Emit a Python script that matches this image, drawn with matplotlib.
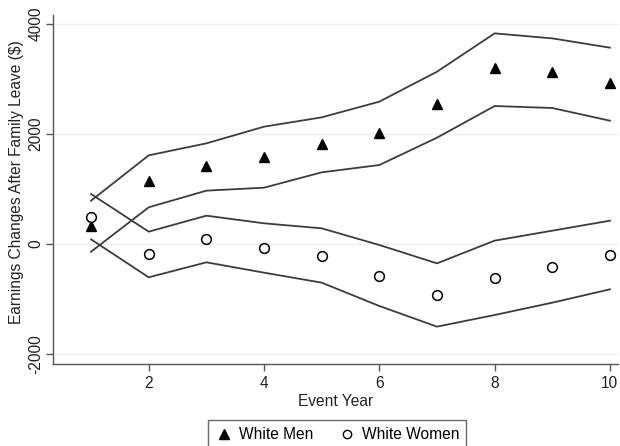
import matplotlib
matplotlib.use("Agg")
import matplotlib.pyplot as plt
from matplotlib.lines import Line2D

plt.rcParams['font.family'] = ['Liberation Sans', 'DejaVu Sans']

years = [1, 2, 3, 4, 5, 6, 7, 8, 9, 10]
men_est = [330, 1145, 1424, 1588, 1818, 2024, 2540, 3194, 3127, 2933]
men_hi = [788, 1612, 1830, 2133, 2303, 2588, 3133, 3830, 3739, 3570]
men_lo = [-140, 667, 970, 1024, 1303, 1436, 1933, 2509, 2473, 2242]
women_est = [485, -182, 85, -79, -218, -576, -927, -618, -424, -200]
women_hi = [909, 224, 515, 376, 285, -18, -352, 61, 242, 424]
women_lo = [85, -606, -333, -521, -703, -1127, -1503, -1291, -1067, -824]

xticks = [2, 4, 6, 8, 10]
yticks = [-2000, 0, 2000, 4000]

fs = 11.2
fig = plt.figure(figsize=(6.2, 4.46), dpi=100)
ax = fig.add_axes([53/620, 1-364/446, (618-53)/620, (364-15)/446])

lc = '#3c3c3c'
for s in (men_hi, men_lo, women_hi, women_lo):
    ax.plot(years, s, color=lc, lw=1.3, zorder=2)

ax.plot(years, men_est, linestyle='none', marker='^', color='black', markersize=7.5, zorder=3)
ax.plot(years, women_est, linestyle='none', marker='o', markerfacecolor='white',
        markeredgecolor='black', markeredgewidth=1.1, markersize=7, zorder=3)

ax.set_xlim(0.34, 10.14)
ax.set_ylim(-2182, 4164)
ax.set_xticks(xticks)
ax.set_yticks(yticks)
ax.set_yticklabels([str(v) for v in yticks], rotation=90, va='center')
for y in yticks:
    ax.axhline(y, color='#eef0f0', lw=1.0, zorder=0)

for sp in ('top', 'right'):
    ax.spines[sp].set_visible(False)
for sp in ('left', 'bottom'):
    ax.spines[sp].set_color('#555555')
    ax.spines[sp].set_linewidth(1.0)
ax.tick_params(axis='both', colors='#555555', labelcolor='#222222', labelsize=fs,
               length=5, width=1.0)
ax.tick_params(axis='y', pad=2)

ax.set_xlabel('Event Year', fontsize=fs, color='#222222', labelpad=2)
ax.set_ylabel('Earnings Changes After Family Leave ($)', fontsize=fs, color='#222222')
ax.yaxis.set_label_coords(-0.052, 0.52)

handles = [
    Line2D([], [], linestyle='none', marker='^', color='black', markersize=7.5),
    Line2D([], [], linestyle='none', marker='o', markerfacecolor='white',
           markeredgecolor='black', markersize=6),
]
leg = fig.legend(handles, ['White Men', 'White Women'], loc='lower center',
                 bbox_to_anchor=(337/620, -0.025), ncol=2, frameon=True, fancybox=False,
                 edgecolor='#444444', fontsize=fs, handletextpad=0.35, columnspacing=1.6,
                 handlelength=1.2, borderpad=0.45)
leg.get_frame().set_linewidth(1.0)

fig.savefig('out.png', dpi=100, facecolor='white')
